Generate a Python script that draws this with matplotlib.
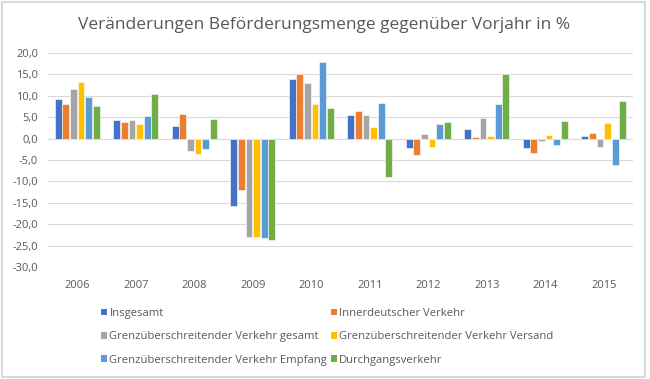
import matplotlib.pyplot as plt
import numpy as np
from matplotlib.patches import Rectangle, Patch

years = ['2006', '2007', '2008', '2009', '2010', '2011', '2012', '2013', '2014', '2015']
series_names = [
    'Insgesamt',
    'Innerdeutscher Verkehr',
    'Grenzüberschreitender Verkehr gesamt',
    'Grenzüberschreitender Verkehr Versand',
    'Grenzüberschreitender Verkehr Empfang',
    'Durchgangsverkehr',
]
insgesamt = [9.2, 4.4, 3.0, -15.8, 13.9, 5.4, -2.2, 2.2, -2.3, 0.7]
innerdeutsch = [8.1, 3.9, 5.8, -11.9, 15.0, 6.4, -3.9, 0.3, -3.4, 1.4]
grenz_gesamt = [11.6, 4.4, -3.0, -23.0, 13.0, 5.5, 1.1, 4.9, -0.5, -1.9]
grenz_versand = [13.3, 3.3, -3.6, -23.0, 8.1, 2.6, -1.9, 0.5, 0.9, 3.6]
grenz_empfang = [9.8, 5.3, -2.4, -23.2, 17.8, 8.3, 3.5, 8.1, -1.6, -6.1]
durchgang = [7.55, 10.4, 4.5, -23.6, 7.1, -8.9, 3.8, 15.0, 4.1, 8.7]
yticks = [20, 15, 10, 5, 0, -5, -10, -15, -20, -25, -30]

colors = ['#4472C4', '#ED7D31', '#A5A5A5', '#FFC000', '#5B9BD5', '#70AD47']
series = [insgesamt, innerdeutsch, grenz_gesamt, grenz_versand, grenz_empfang, durchgang]

plt.rcParams['font.family'] = ['Open Sans', 'DejaVu Sans']
text_col = '#595959'

fig = plt.figure(figsize=(6.5, 3.79), dpi=100)
ax = fig.add_axes([48 / 650, 1 - 267 / 379, 585 / 650, 214 / 379])

x = np.arange(len(years))
slot = 0.13
width = 0.115
for i, (vals, col) in enumerate(zip(series, colors)):
    offs = (i - 2.5) * slot
    ax.bar(x + offs, vals, width, color=col, edgecolor='white', linewidth=0.4, zorder=3)

ax.set_xlim(-0.5, len(years) - 0.5)
ax.set_ylim(-30, 20)
ax.set_yticks(yticks)
ax.set_yticklabels([f'{v:.1f}'.replace('.', ',') for v in yticks])
ax.set_xticks(x)
ax.set_xticklabels(years)
ax.tick_params(axis='both', length=0, labelsize=8, labelcolor=text_col)
ax.tick_params(axis='x', pad=9)
ax.tick_params(axis='y', pad=7)
ax.grid(axis='y', color='#D9D9D9', linewidth=0.8, zorder=0)
for s in ax.spines.values():
    s.set_visible(False)

fig.text(324 / 650, 1 - 25 / 379, 'Veränderungen Beförderungsmenge gegenüber Vorjahr in %',
         ha='center', va='center', fontsize=12.5, color=text_col)

handles = [Patch(facecolor=c, edgecolor='none') for c in colors]
order = [0, 2, 4, 1, 3, 5]
leg = fig.legend([handles[i] for i in order], [series_names[i] for i in order],
                 ncol=2, loc='upper left', bbox_to_anchor=(101 / 650, 1 - 308 / 379),
                 frameon=False, fontsize=8.1, handlelength=0.55, handleheight=0.55,
                 handletextpad=0.2, columnspacing=0.3, labelspacing=1.1,
                 borderaxespad=0, borderpad=0)
for t in leg.get_texts():
    t.set_color(text_col)

fig.patches.append(Rectangle((0.003, 0.004), 0.990, 0.992, transform=fig.transFigure,
                             fill=False, edgecolor='#D9D9D9', linewidth=1.5))

fig.savefig('out.png', dpi=100)
